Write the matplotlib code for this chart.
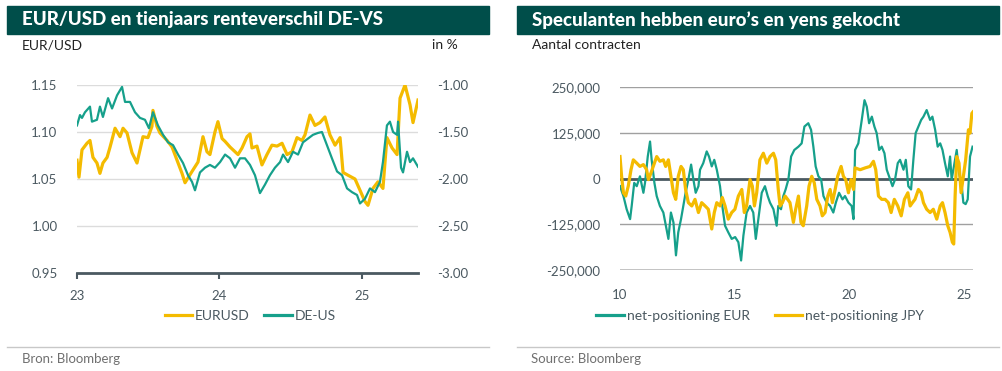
import matplotlib
matplotlib.use('Agg')
import matplotlib.pyplot as plt
from matplotlib.patches import Rectangle
from matplotlib.lines import Line2D
from matplotlib.ticker import FuncFormatter

# ==========================================
# DATA
# ==========================================
# left panel: EUR/USD and 10y spread DE-US, x in years (23 = 2023)
eurusd_t = [23.000, 23.014, 23.035, 23.070, 23.091, 23.112, 23.140, 23.161, 23.182, 23.211,
            23.232, 23.267, 23.302, 23.323, 23.351, 23.386, 23.421, 23.442, 23.463, 23.498,
            23.526, 23.533, 23.561, 23.582, 23.632, 23.667, 23.702, 23.737, 23.758, 23.807,
            23.849, 23.884, 23.912, 23.933, 23.968, 23.989, 24.018, 24.039, 24.074, 24.109,
            24.130, 24.158, 24.193, 24.214, 24.228, 24.263, 24.298, 24.333, 24.368, 24.404,
            24.439, 24.474, 24.509, 24.544, 24.579, 24.600, 24.635, 24.670, 24.705, 24.740,
            24.775, 24.811, 24.846, 24.867, 24.902, 24.951, 24.986, 25.021, 25.042, 25.077,
            25.112, 25.147, 25.175, 25.211, 25.246, 25.267, 25.302, 25.337, 25.358, 25.393]
eurusd = [1.070, 1.052, 1.081, 1.088, 1.091, 1.073, 1.067, 1.056, 1.067, 1.073,
          1.084, 1.104, 1.095, 1.104, 1.099, 1.078, 1.067, 1.081, 1.095, 1.094,
          1.106, 1.123, 1.106, 1.099, 1.091, 1.084, 1.070, 1.056, 1.046, 1.058,
          1.068, 1.095, 1.079, 1.076, 1.100, 1.111, 1.093, 1.090, 1.084, 1.079,
          1.076, 1.083, 1.095, 1.098, 1.083, 1.085, 1.065, 1.076, 1.086, 1.085,
          1.088, 1.076, 1.079, 1.094, 1.091, 1.097, 1.118, 1.107, 1.110, 1.116,
          1.097, 1.086, 1.094, 1.057, 1.054, 1.050, 1.038, 1.026, 1.022, 1.040,
          1.047, 1.040, 1.094, 1.083, 1.076, 1.136, 1.150, 1.129, 1.110, 1.134]

spread_t = [23.000, 23.021, 23.035, 23.056, 23.091, 23.105, 23.140, 23.161, 23.182, 23.218,
            23.246, 23.281, 23.316, 23.337, 23.372, 23.407, 23.442, 23.477, 23.505, 23.533,
            23.568, 23.604, 23.639, 23.674, 23.709, 23.744, 23.779, 23.807, 23.828, 23.863,
            23.898, 23.933, 23.968, 24.004, 24.039, 24.074, 24.109, 24.144, 24.179, 24.214,
            24.249, 24.284, 24.319, 24.354, 24.389, 24.425, 24.446, 24.481, 24.516, 24.551,
            24.586, 24.621, 24.656, 24.691, 24.719, 24.754, 24.789, 24.825, 24.860, 24.895,
            24.930, 24.965, 24.986, 25.021, 25.056, 25.091, 25.126, 25.147, 25.175, 25.196,
            25.218, 25.246, 25.253, 25.274, 25.288, 25.316, 25.337, 25.358, 25.393]
spread_de_us = [-1.43, -1.32, -1.35, -1.29, -1.23, -1.39, -1.37, -1.23, -1.34, -1.14,
                -1.25, -1.11, -1.02, -1.18, -1.18, -1.29, -1.35, -1.37, -1.46, -1.29,
                -1.43, -1.53, -1.61, -1.64, -1.74, -1.83, -1.96, -2.03, -2.12, -1.93,
                -1.88, -1.85, -1.88, -1.82, -1.74, -1.78, -1.88, -1.78, -1.78, -1.85,
                -1.96, -2.15, -2.06, -1.96, -1.88, -1.82, -1.74, -1.82, -1.71, -1.74,
                -1.61, -1.57, -1.53, -1.51, -1.50, -1.64, -1.78, -1.92, -1.96, -2.10,
                -2.14, -2.17, -2.26, -2.21, -2.10, -2.14, -2.03, -1.82, -1.43, -1.39,
                -1.50, -1.53, -1.39, -1.88, -1.93, -1.71, -1.82, -1.78, -1.87]

# right panel: speculative net positions, x in years (10 = 2010), values in thousands
eur_net_t = [10.00, 10.15, 10.29, 10.44, 10.51, 10.62, 10.73, 10.87, 11.02, 11.09,
             11.21, 11.31, 11.38, 11.50, 11.60, 11.74, 11.89, 12.03, 12.11, 12.22,
             12.33, 12.44, 12.54, 12.66, 12.76, 12.86, 12.98, 13.10, 13.20, 13.30,
             13.42, 13.49, 13.63, 13.78, 13.88, 14.00, 14.11, 14.22, 14.36, 14.46,
             14.58, 14.72, 14.87, 15.02, 15.16, 15.28, 15.38, 15.52, 15.67, 15.81,
             15.92, 16.03, 16.18, 16.32, 16.44, 16.54, 16.69, 16.83, 16.90, 17.02,
             17.12, 17.22, 17.34, 17.46, 17.60, 17.78, 17.92, 18.04, 18.21, 18.33,
             18.43, 18.53, 18.65, 18.77, 18.87, 19.01, 19.16, 19.30, 19.41, 19.55,
             19.70, 19.81, 19.96, 20.10, 20.18, 20.25, 20.39, 20.54, 20.66, 20.76,
             20.86, 20.98, 21.09, 21.19, 21.30, 21.41, 21.53, 21.63, 21.78, 21.88,
             21.99, 22.11, 22.21, 22.36, 22.46, 22.57, 22.69, 22.79, 22.89, 23.01,
             23.13, 23.23, 23.37, 23.52, 23.62, 23.74, 23.85, 23.96, 24.06, 24.17,
             24.29, 24.39, 24.46, 24.58, 24.68, 24.78, 24.90, 24.97, 25.07, 25.16,
             25.26, 25.37]
eur_net_k = [-21, -48, -84, -111, -75, -12, -21, 6, -39, -12,
             60, 101, 51, -12, -48, -75, -93, -138, -165, -93,
             -120, -210, -147, -111, -75, -39, -3, 38, -3, -39,
             -21, 24, 42, 74, 60, 33, 51, 24, -21, -75,
             -129, -147, -165, -160, -174, -224, -156, -93, -75, -93,
             -165, -111, -39, -21, -48, -66, -84, -129, -75, -84,
             -48, -30, -3, 60, 78, 87, 96, 142, 151, 133,
             87, 33, 6, -3, -48, -66, -75, -93, -66, -39,
             -57, -48, -66, -75, -111, 78, 96, 160, 214, 196,
             151, 169, 142, 124, 78, 87, 69, 24, -3, -21,
             -3, 42, 51, 24, 51, -21, -30, 51, 124, 142,
             160, 169, 187, 160, 169, 133, 87, 96, 78, 42,
             6, 60, -3, 42, 78, 15, -21, -66, -70, -57,
             60, 87]

jpy_net_t = [10.00, 10.07, 10.15, 10.25, 10.36, 10.48, 10.58, 10.73, 10.87, 11.02,
             11.16, 11.24, 11.35, 11.45, 11.60, 11.74, 11.89, 11.99, 12.11, 12.22,
             12.33, 12.43, 12.54, 12.66, 12.76, 12.86, 12.98, 13.13, 13.27, 13.42,
             13.56, 13.71, 13.85, 14.00, 14.11, 14.22, 14.36, 14.46, 14.58, 14.72,
             14.87, 15.01, 15.16, 15.31, 15.42, 15.52, 15.67, 15.77, 15.86, 15.96,
             16.10, 16.25, 16.40, 16.54, 16.69, 16.79, 16.90, 16.98, 17.08, 17.20,
             17.31, 17.41, 17.56, 17.66, 17.78, 17.89, 17.99, 18.14, 18.24, 18.36,
             18.47, 18.58, 18.72, 18.82, 18.94, 19.06, 19.16, 19.26, 19.38, 19.49,
             19.64, 19.74, 19.84, 19.96, 20.07, 20.18, 20.25, 20.47, 20.69, 20.90,
             21.05, 21.15, 21.27, 21.41, 21.56, 21.70, 21.82, 21.96, 22.11, 22.26,
             22.40, 22.55, 22.65, 22.75, 22.86, 23.01, 23.13, 23.23, 23.37, 23.52,
             23.66, 23.81, 23.96, 24.06, 24.17, 24.29, 24.39, 24.49, 24.55, 24.61,
             24.68, 24.78, 24.87, 24.97, 25.07, 25.19, 25.26, 25.34, 25.39]
jpy_net_k = [60, 6, -39, -48, -21, 24, 51, 42, 33, 38,
             24, -3, 15, 33, 60, 47, 51, 33, 51, 6,
             -39, -57, 6, 33, 24, -30, -66, -75, -57, -93,
             -66, -75, -84, -138, -93, -66, -75, -52, -75, -111,
             -93, -84, -48, -30, -93, -75, -3, -21, -75, -39,
             51, 69, 42, 60, 69, 51, -30, -75, -66, -48,
             -57, -66, -120, -84, -48, -120, -129, -75, -21, 6,
             -12, -57, -75, -102, -93, -48, -30, -66, -30, 6,
             33, 6, -3, -39, -3, -30, 29, 24, 29, 33,
             47, 24, -48, -57, -57, -66, -93, -57, -75, -102,
             -57, -39, -75, -66, -57, -30, -39, -66, -84, -93,
             -84, -111, -75, -66, -93, -129, -147, -174, -179, -48,
             60, 42, -39, 6, 51, 133, 124, 178, 182]

left_xticks = [23, 24, 25]
left_yticks = [0.95, 1.00, 1.05, 1.10, 1.15]
right_yticks_spread = [-3.0, -2.5, -2.0, -1.5, -1.0]
pos_xticks = [10, 15, 20, 25]
pos_yticks = [-250000, -125000, 0, 125000, 250000]

# ==========================================
# STYLE
# ==========================================
W, H = 1003, 371
HEADER = '#004e4a'
YELLOW = '#f4bb00'
TEAL = '#16a08b'
SLATE = '#4b5961'
GRID_L = '#dcdcdc'
GRID_R = '#a0a0a0'

plt.rcParams['font.family'] = ['Lato', 'DejaVu Sans']
plt.rcParams['font.size'] = 10


def fx(x):
    return x / W


def fy(y):
    return 1 - y / H


fig = plt.figure(figsize=(W / 100, H / 100), dpi=100)
fig.patch.set_facecolor('white')

# header bars + titles
for x0, x1, title in [(7, 489, 'EUR/USD en tienjaars renteverschil DE-VS'),
                      (517, 999, 'Speculanten hebben euro\u2019s en yens gekocht')]:
    fig.patches.append(Rectangle((fx(x0), fy(34)), fx(x1 - x0), (34 - 6) / H,
                                 transform=fig.transFigure, color=HEADER, zorder=0))
    fig.text(fx(x0 + 15), fy(20), title, color='white', fontsize=13.5,
             fontweight='black', va='center', ha='left')
    # bottom separator
    fig.add_artist(Line2D([fx(x0), fx(x1)], [fy(347), fy(347)], color='#c8c8c8', lw=1))

fig.text(fx(22), fy(45), 'EUR/USD', fontsize=10, color='#222222', va='center')
fig.text(fx(432), fy(45), 'in %', fontsize=10, color='#222222', va='center', ha='left')
fig.text(fx(532), fy(45), 'Aantal contracten', fontsize=10, color='#222222', va='center')
fig.text(fx(22), fy(359), 'Bron: Bloomberg', fontsize=9.5, color='#707070', va='center')
fig.text(fx(531), fy(359), 'Source: Bloomberg', fontsize=9.5, color='#707070', va='center')

# ==========================================
# LEFT PANEL
# ==========================================
ax = fig.add_axes([fx(77), fy(273), fx(418 - 77), (273 - 85) / H])
ax.plot(eurusd_t, eurusd, color=YELLOW, lw=2.3, zorder=3)
ax.set_xlim(23.0, 25.393)
ax.set_ylim(0.95, 1.15)
ax.set_yticks(left_yticks)
ax.yaxis.set_major_formatter(FuncFormatter(lambda v, p: f'{v:.2f}'))
ax.set_xticks(left_xticks)
ax.set_xticklabels([str(t) for t in left_xticks])
for y in left_yticks[1:]:
    ax.axhline(y, color=GRID_L, lw=1, zorder=1)
for s in ['top', 'right', 'left']:
    ax.spines[s].set_visible(False)
ax.spines['bottom'].set_color(SLATE)
ax.spines['bottom'].set_linewidth(2)
ax.tick_params(axis='x', length=4, width=1.5, color=SLATE, colors=SLATE, labelsize=9.5, pad=8)
ax.tick_params(axis='y', length=0, colors=SLATE, labelsize=9.5, pad=14)

ax2 = ax.twinx()
ax2.plot(spread_t, spread_de_us, color=TEAL, lw=1.6, zorder=4)
ax2.set_ylim(-3.0, -1.0)
ax2.set_yticks(right_yticks_spread)
ax2.yaxis.set_major_formatter(FuncFormatter(lambda v, p: f'{v:.2f}'))
for s in ['top', 'right', 'left', 'bottom']:
    ax2.spines[s].set_visible(False)
ax2.tick_params(axis='y', length=0, colors=SLATE, labelsize=9.5, pad=14)

handles = [Line2D([], [], color=YELLOW, lw=2.3), Line2D([], [], color=TEAL, lw=2.3)]
fig.legend(handles, ['EURUSD', 'DE-US'], loc='center', bbox_to_anchor=(fx(250), fy(316)),
           ncol=2, frameon=False, fontsize=10, handlelength=2.0, handletextpad=0.2,
           columnspacing=1.0, labelcolor=SLATE)

# ==========================================
# RIGHT PANEL
# ==========================================
bx = fig.add_axes([fx(620), fy(270), fx(973 - 620), (270 - 87) / H])
bx.plot(eur_net_t, [v * 1000 for v in eur_net_k], color=TEAL, lw=1.6, zorder=3)
bx.plot(jpy_net_t, [v * 1000 for v in jpy_net_k], color=YELLOW, lw=2.3, zorder=4)
bx.set_xlim(10, 25.39)
bx.set_ylim(-250000, 250000)
bx.set_yticks(pos_yticks)
bx.yaxis.set_major_formatter(FuncFormatter(lambda v, p: f'{v:,.0f}'))
bx.set_xticks(pos_xticks)
bx.set_xticklabels([str(t) for t in pos_xticks])
for y in pos_yticks:
    if y == 0:
        bx.axhline(y, color=SLATE, lw=2, zorder=2)
    elif y == -250000:
        bx.axhline(y, color='#bdbdbd', lw=2, zorder=1)
    else:
        bx.axhline(y, color=GRID_R, lw=1, zorder=1)
for s in bx.spines.values():
    s.set_visible(False)
bx.tick_params(axis='x', length=0, colors=SLATE, labelsize=9.5, pad=14)
bx.tick_params(axis='y', length=0, colors=SLATE, labelsize=9.5, pad=14)

handles = [Line2D([], [], color=TEAL, lw=2.3), Line2D([], [], color=YELLOW, lw=2.3)]
fig.legend(handles, ['net-positioning EUR', 'net-positioning JPY'], loc='center',
           bbox_to_anchor=(fx(760), fy(316)), ncol=2, frameon=False, fontsize=10,
           handlelength=2.0, handletextpad=0.2, columnspacing=1.8, labelcolor=SLATE)

plt.savefig('out.png', dpi=100)
plt.close(fig)
